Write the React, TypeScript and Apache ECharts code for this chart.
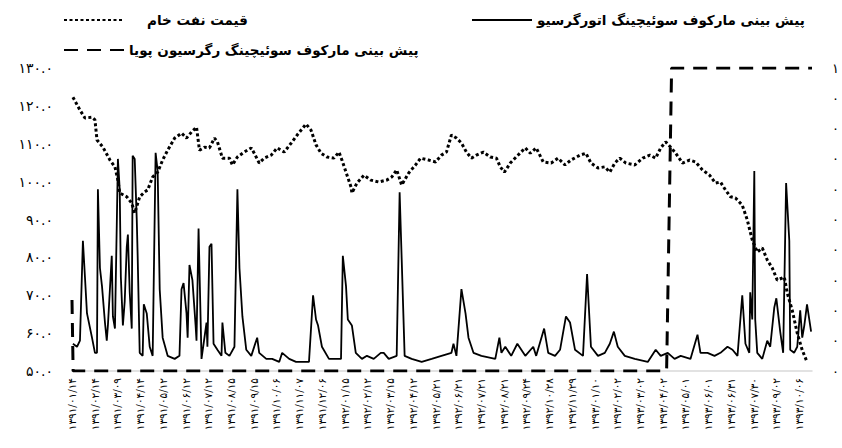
import React, { useEffect, useRef } from "react";
import * as echarts from "echarts";

const solidName = "پیش بینی مارکوف سوئیچینگ اتورگرسیو";
const oilName = "قیمت نفت خام";
const dynName = "پیش بینی مارکوف سوئیچینگ رگرسیون پویا";

const xLabels = [
  "۱۳۹۱/۰۱/۱۴", "۱۳۹۱/۰۲/۱۴", "۱۳۹۱/۰۳/۰۹", "۱۳۹۱/۰۴/۱۴", "۱۳۹۱/۰۵/۱۲", "۱۳۹۱/۰۶/۱۲",
  "۱۳۹۱/۰۷/۱۲", "۱۳۹۱/۰۸/۱۵", "۱۳۹۱/۰۹/۱۵", "۱۳۹۱/۱۰/۰۶", "۱۳۹۱/۱۱/۰۷", "۱۳۹۱/۱۲/۰۶",
  "۱۳۹۲/۰۱/۱۵", "۱۳۹۲/۰۲/۱۲", "۱۳۹۲/۰۳/۱۵", "۱۳۹۲/۰۴/۱۲", "۱۳۹۲/۰۵/۲۱", "۱۳۹۲/۰۶/۲۱",
  "۱۳۹۲/۰۷/۲۱", "۱۳۹۲/۰۸/۲۱", "۱۳۹۲/۰۹/۲۴", "۱۳۹۲/۱۰/۲۸", "۱۳۹۲/۱۱/۲۹",
  "۱۳۹۳/۰۱/۱۰", "۱۳۹۳/۰۲/۰۲", "۱۳۹۳/۰۳/۰۲", "۱۳۹۳/۰۴/۰۲", "۱۳۹۳/۰۵/۰۱", "۱۳۹۳/۰۶/۰۱",
  "۱۳۹۳/۰۶/۳۱", "۱۳۹۳/۰۷/۳۰", "۱۳۹۳/۰۹/۰۲", "۱۳۹۳/۱۰/۰۶",
];

const leftTickLabels = ["۵۰.۰", "۶۰.۰", "۷۰.۰", "۸۰.۰", "۹۰.۰", "۱۰۰.۰", "۱۱۰.۰", "۱۲۰.۰", "۱۳۰.۰"];
const rightTickLabels = ["۰", "۰", "۰", "۰", "۰", "۰", "۰", "۰", "۰", "۰", "۱"];

// crude oil price (left axis), positions in label units
const oilPos = [
  0.04, 0.35, 0.57, 0.88, 1.01, 1.10, 1.36, 1.67, 1.89, 2.02,
  2.10, 2.41, 2.63, 2.76, 2.98, 3.20, 3.33, 3.55, 3.77, 3.99,
  4.21, 4.52, 4.82, 5.04, 5.26, 5.48, 5.61, 5.83, 6.05, 6.27,
  6.40, 6.62, 6.93, 7.06, 7.28, 7.58, 7.89, 8.02, 8.24, 8.46,
  8.77, 9.03, 9.34, 9.65, 9.91, 10.30, 10.52, 10.74, 10.96, 11.22,
  11.53, 11.75, 11.88, 12.06, 12.28, 12.32, 12.54, 12.85, 13.15, 13.50,
  13.85, 14.07, 14.29, 14.51, 14.82, 15.12, 15.34, 15.69, 16.00, 16.26,
  16.48, 16.70, 16.92, 17.14, 17.36, 17.58, 17.80, 18.11, 18.41, 18.68,
  18.85, 19.03, 19.29, 19.55, 19.95, 20.17, 20.43, 20.74, 21.09, 21.39,
  21.70, 21.96, 22.36, 22.62, 22.84, 23.15, 23.45, 23.67, 23.89, 24.11,
  24.38, 24.77, 25.12, 25.43, 25.69, 25.91, 26.13, 26.35, 26.57, 26.87,
  27.18, 27.44, 27.75, 28.06, 28.32, 28.54, 28.76, 28.98, 29.20, 29.50,
  29.72, 29.94, 30.16, 30.38, 30.60, 30.82, 31.04, 31.35, 31.48, 31.70,
  31.92, 32.14, 32.35,
];
const oilPrice = [
  122.3, 118.9, 116.8, 117, 116.3, 111, 109.1, 105.7, 103.9, 100.4,
  97, 96, 94.3, 91.7, 96, 97.3, 97.8, 101.2, 102.5, 105.7,
  108.3, 111.5, 112.8, 111.5, 113.1, 114.4, 108.3, 109.1, 108.9, 111.5,
  110.5, 106.2, 106.2, 104.4, 106.5, 107.8, 108.9, 107.5, 104.9, 106.2,
  107, 108.9, 107.8, 110.2, 112.3, 115.2, 113.6, 109.7, 107.5, 106.5,
  106.2, 107.8, 105.7, 102.5, 98.6, 97, 99.6, 101.7, 100.4, 99.9,
  100.4, 101.2, 103.1, 99.1, 102.3, 104.4, 106.2, 105.7, 105.2, 107,
  107.8, 112.3, 111.5, 110.2, 107.8, 106.2, 107, 107.8, 106.5, 106.2,
  103.9, 102.5, 104.9, 106.5, 108.9, 107.5, 108.9, 105.2, 104.9, 106.2,
  104.4, 105.7, 107, 107.5, 104.9, 103.6, 103.9, 102.5, 104.9, 106.2,
  104.9, 104.4, 106.2, 107, 106.2, 108.9, 110.5, 109.1, 107.5, 104.9,
  105.7, 105.2, 103.1, 101.7, 99.6, 99.9, 97.8, 96, 95.7, 93.8,
  89.9, 84.6, 81.4, 82.5, 79.3, 77.2, 74, 74.8, 70.6, 66,
  60, 55.5, 52.4,
];

// Markov switching autoregressive forecast (right axis)
const msPos = [
  0.04, 0.22, 0.35, 0.48, 0.57, 0.66, 0.88, 1.01, 1.10, 1.14,
  1.23, 1.32, 1.45, 1.53, 1.58, 1.75, 1.80, 1.89, 1.97, 2.02,
  2.10, 2.15, 2.24, 2.32, 2.41, 2.46, 2.54, 2.63, 2.67, 2.76,
  2.85, 2.89, 2.98, 3.11, 3.16, 3.29, 3.42, 3.55, 3.68, 3.77,
  3.86, 3.99, 4.21, 4.52, 4.73, 4.82, 4.91, 5.04, 5.09, 5.17,
  5.30, 5.44, 5.48, 5.57, 5.70, 5.92, 5.96, 6.05, 6.14, 6.23,
  6.40, 6.58, 6.62, 6.75, 6.93, 7.15, 7.28, 7.37, 7.50, 7.67,
  7.89, 8.15, 8.24, 8.55, 8.81, 9.12, 9.25, 9.56, 9.86, 10.43,
  10.61, 10.74, 10.83, 11.00, 11.31, 11.84, 11.92, 12.06, 12.14, 12.32,
  12.49, 12.76, 12.98, 13.28, 13.59, 13.72, 13.94, 14.29, 14.42, 14.51,
  14.64, 14.95, 15.39, 15.83, 16.26, 16.70, 16.79, 16.92, 17.14, 17.32,
  17.45, 17.67, 18.02, 18.63, 18.81, 18.90, 19.07, 19.33, 19.60, 19.95,
  20.30, 20.43, 20.78, 20.96, 21.26, 21.48, 21.74, 21.92, 22.14, 22.49,
  22.67, 22.84, 23.15, 23.45, 23.67, 23.85, 24.02, 24.33, 24.77, 25.34,
  25.69, 25.91, 26.22, 26.52, 26.79, 27.22, 27.53, 27.66, 27.97, 28.28,
  28.54, 28.85, 29.07, 29.29, 29.50, 29.64, 29.81, 29.85, 29.94, 30.03,
  30.07, 30.16, 30.38, 30.60, 30.73, 30.91, 31.00, 31.17, 31.30, 31.43,
  31.57, 31.61, 31.78, 31.92, 32.05, 32.14, 32.23, 32.35, 32.53,
];
const msProb = [
  0.09, 0.08, 0.10, 0.43, 0.31, 0.19, 0.11, 0.06, 0.06, 0.60,
  0.34, 0.28, 0.16, 0.10, 0.15, 0.38, 0.18, 0.14, 0.48, 0.70,
  0.60, 0.31, 0.15, 0.23, 0.41, 0.45, 0.26, 0.14, 0.71, 0.70,
  0.50, 0.38, 0.06, 0.05, 0.22, 0.19, 0.08, 0.05, 0.72, 0.66,
  0.27, 0.11, 0.05, 0.04, 0.05, 0.27, 0.29, 0.19, 0.11, 0.35,
  0.30, 0.15, 0.10, 0.47, 0.04, 0.16, 0.08, 0.41, 0.42, 0.09,
  0.07, 0.05, 0.16, 0.06, 0.05, 0.08, 0.60, 0.34, 0.18, 0.07,
  0.05, 0.11, 0.06, 0.04, 0.04, 0.03, 0.06, 0.04, 0.03, 0.03,
  0.25, 0.17, 0.15, 0.08, 0.04, 0.04, 0.38, 0.28, 0.17, 0.15,
  0.06, 0.04, 0.05, 0.04, 0.06, 0.06, 0.04, 0.05, 0.59, 0.37,
  0.05, 0.04, 0.03, 0.04, 0.05, 0.06, 0.09, 0.05, 0.27, 0.19,
  0.11, 0.06, 0.05, 0.04, 0.11, 0.06, 0.08, 0.05, 0.09, 0.05,
  0.08, 0.05, 0.14, 0.06, 0.05, 0.07, 0.18, 0.16, 0.07, 0.05,
  0.32, 0.08, 0.05, 0.06, 0.09, 0.13, 0.08, 0.05, 0.04, 0.03,
  0.07, 0.05, 0.06, 0.04, 0.05, 0.04, 0.12, 0.06, 0.06, 0.05,
  0.06, 0.08, 0.07, 0.05, 0.25, 0.09, 0.06, 0.26, 0.17, 0.66,
  0.17, 0.06, 0.04, 0.10, 0.08, 0.21, 0.24, 0.13, 0.06, 0.62,
  0.43, 0.07, 0.06, 0.08, 0.20, 0.11, 0.15, 0.22, 0.13,
];

// Markov switching dynamic regression forecast (right axis)
const dynPos = [0, 0.05, 26.17, 26.39, 32.57];
const dynProb = [0.234, 0, 0, 1, 1];

const X_MAX = 32.57;
const FONT = "DejaVu Sans";

export default function App() {
  const ref = useRef<HTMLDivElement>(null);
  useEffect(() => {
    if (!ref.current) return;
    const chart = echarts.init(ref.current, undefined, { renderer: "svg" });
    const zip = (xs: number[], ys: number[]) => xs.map((x, i) => [x, ys[i]]);
    const legendText = { color: "#000", fontSize: 13.5, fontFamily: FONT, fontWeight: "bold" as const };
    const legendBase = {
      itemWidth: 60,
      itemHeight: 12,
      selectedMode: false,
      itemStyle: { opacity: 0 },
    };
    chart.setOption({
      animation: false,
      backgroundColor: "#fff",
      grid: { left: 72, right: 27, top: 68, bottom: 77, containLabel: false },
      legend: [
        { ...legendBase, data: [solidName], left: 466, top: 8, textStyle: legendText },
        { ...legendBase, data: [oilName], left: 58, top: 8, textStyle: { ...legendText, padding: [0, 0, 0, 18] } },
        { ...legendBase, data: [dynName], left: 58, top: 38, textStyle: legendText },
      ],
      xAxis: {
        type: "value",
        min: 0,
        max: X_MAX,
        interval: 1,
        splitLine: { show: false },
        axisTick: { show: false },
        axisLine: { show: true, lineStyle: { color: "#d9d9d9", width: 1.5 } },
        axisLabel: {
          rotate: 90,
          margin: 7,
          fontSize: 10.5,
          fontFamily: FONT,
          color: "#000",
          showMaxLabel: false,
          formatter: (v: number) => {
            const r = Math.round(v);
            return Math.abs(v - r) < 1e-6 && r >= 0 && r < xLabels.length ? xLabels[r] : "";
          },
        },
      },
      yAxis: [
        {
          type: "value",
          min: 50,
          max: 130,
          interval: 10,
          splitLine: { show: false },
          axisLine: { show: false },
          axisTick: { show: false },
          axisLabel: {
            margin: 19,
            fontSize: 14,
            fontFamily: FONT,
            color: "#000",
            formatter: (v: number) => leftTickLabels[Math.round((v - 50) / 10)] ?? "",
          },
        },
        {
          type: "value",
          min: 0,
          max: 1,
          interval: 0.1,
          position: "right",
          splitLine: { show: false },
          axisLine: { show: false },
          axisTick: { show: false },
          axisLabel: {
            margin: 20,
            fontSize: 13,
            fontFamily: FONT,
            color: "#000",
            formatter: (v: number) => rightTickLabels[Math.round(v * 10)] ?? "",
          },
        },
      ],
      series: [
        {
          name: solidName,
          type: "line",
          yAxisIndex: 1,
          data: zip(msPos, msProb),
          symbol: "none",
          lineStyle: { color: "#000", width: 1.8 },
          itemStyle: { color: "#000" },
          z: 3,
        },
        {
          name: oilName,
          type: "line",
          yAxisIndex: 0,
          data: zip(oilPos, oilPrice),
          symbol: "none",
          lineStyle: { color: "#000", width: 3, type: [3, 2.5], cap: "butt" },
          itemStyle: { color: "#000" },
          z: 2,
        },
        {
          name: dynName,
          type: "line",
          yAxisIndex: 1,
          data: zip(dynPos, dynProb),
          symbol: "none",
          lineStyle: { color: "#000", width: 3, type: [14, 9] },
          itemStyle: { color: "#000" },
          z: 4,
        },
      ],
    });
    return () => chart.dispose();
  }, []);
  return <div ref={ref} style={{ position: "fixed", left: 0, top: 0, width: 842, height: 448 }} />;
}
